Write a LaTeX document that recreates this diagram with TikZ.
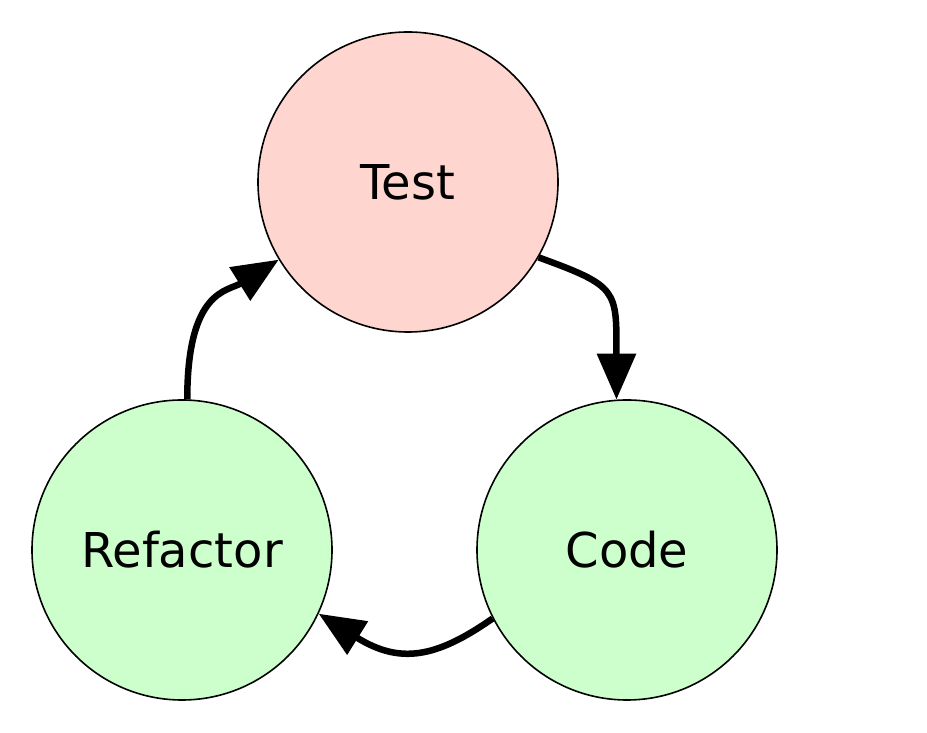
\documentclass[tikz,border=0pt]{standalone}
\usepackage{fontspec}
\setmainfont{DejaVu Sans}
\usetikzlibrary{arrows.meta}
\definecolor{testpink}{HTML}{FFD5D0}
\definecolor{codegreen}{HTML}{CCFFCC}
\begin{document}
\begin{tikzpicture}[x=1pt,y=1pt,
  stage/.style={circle,draw=black,line width=1.6pt,minimum size=300pt,inner sep=0pt,font=\fontsize{48}{56}\selectfont},
  flow/.style={line width=6.5pt,-{Triangle[width=38pt,length=46pt]}}]
\useasboundingbox (0,0) rectangle (927,733);
\node[stage,fill=testpink] (test) at (408,551) {Test};
\node[stage,fill=codegreen] (code) at (627,183) {Code};
\node[stage,fill=codegreen] (refactor) at (182,183) {Refactor};
\draw[flow] (test.-30) .. controls +(-20:85) and +(90:110) .. (code.94);
\draw[flow] (code.-153) .. controls +(215:70) and +(-32:95) .. (refactor.-25);
\draw[flow] (refactor.88) .. controls +(90:110) and +(-148:60) .. (test.-149);
\end{tikzpicture}
\end{document}
